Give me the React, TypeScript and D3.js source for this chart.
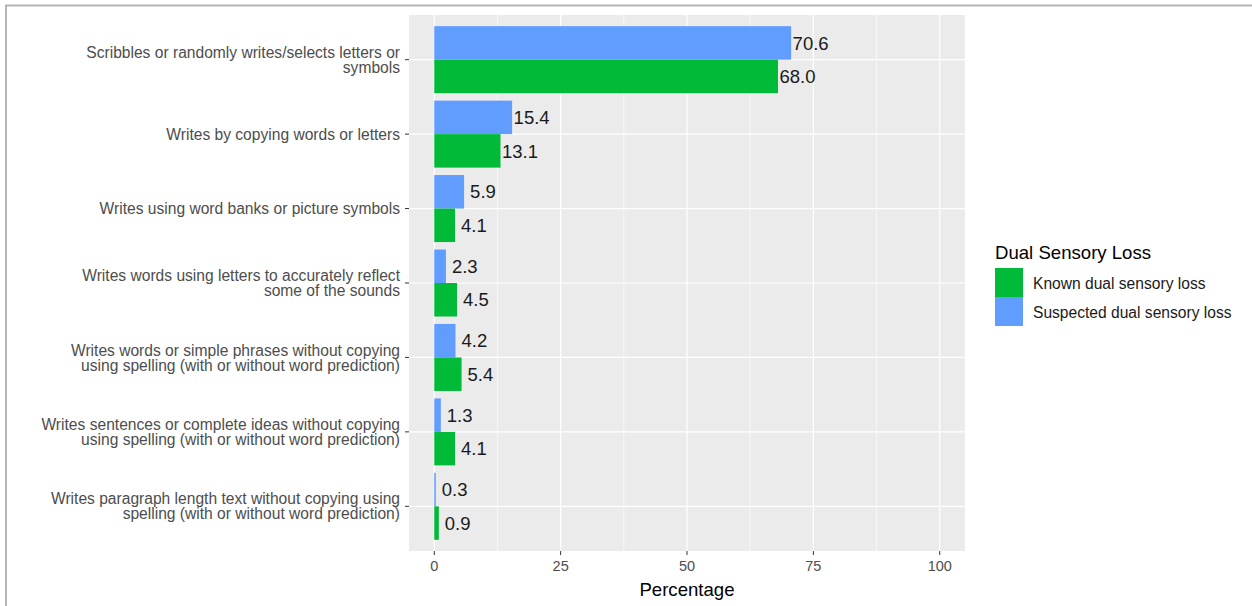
import React from "react";
import * as d3 from "d3";

const categories: string[][] = [
  ["Scribbles or randomly writes/selects letters or", "symbols"],
  ["Writes by copying words or letters"],
  ["Writes using word banks or picture symbols"],
  ["Writes words using letters to accurately reflect", "some of the sounds"],
  ["Writes words or simple phrases without copying", "using spelling (with or without word prediction)"],
  ["Writes sentences or complete ideas without copying", "using spelling (with or without word prediction)"],
  ["Writes paragraph length text without copying using", "spelling (with or without word prediction)"],
];
const suspected: number[] = [70.6, 15.4, 5.9, 2.3, 4.2, 1.3, 0.3];
const known: number[] = [68.0, 13.1, 4.1, 4.5, 5.4, 4.1, 0.9];
const xTicks: number[] = [0, 25, 50, 75, 100];
const xMinor: number[] = [12.5, 37.5, 62.5, 87.5];
const legendLabels: string[] = ["Known dual sensory loss", "Suspected dual sensory loss"];
const colors = { known: "#00BA38", suspected: "#619CFF" };

const FONT = "'Liberation Sans', Arial, sans-serif";

export default function App() {
  const W = 1252, H = 606;
  const panel = { left: 409, right: 965, top: 15, bottom: 551 };
  const x = d3.scaleLinear().domain([-5, 105]).range([panel.left, panel.right]);
  const keys = categories.map((_, i) => String(i));
  const y = d3.scalePoint<string>().domain(keys).range([panel.top, panel.bottom]).padding(0.6);
  const step = y.step();
  const half = step * 0.45;
  const lineH = 15;

  const gap = (v: number) => (v >= 10 ? 1.5 : 6);

  return (
    <div style={{ position: "fixed", left: 0, top: 0 }}>
      <svg width={W} height={H} style={{ display: "block", background: "#fff" }} fontFamily={FONT}>
        <line x1={5} x2={W} y1={5.5} y2={5.5} stroke="#b4b4b4" strokeWidth={2} />
        <line x1={6} x2={6} y1={5} y2={H} stroke="#b4b4b4" strokeWidth={2} />
        <rect x={panel.left} y={panel.top} width={panel.right - panel.left} height={panel.bottom - panel.top} fill="#EBEBEB" />
        {xMinor.map((t) => (
          <line key={"mi" + t} x1={x(t)} x2={x(t)} y1={panel.top} y2={panel.bottom} stroke="#fff" strokeWidth={0.6} />
        ))}
        {xTicks.map((t) => (
          <line key={"ma" + t} x1={x(t)} x2={x(t)} y1={panel.top} y2={panel.bottom} stroke="#fff" strokeWidth={1.2} />
        ))}
        {keys.map((k) => (
          <line key={"hy" + k} x1={panel.left} x2={panel.right} y1={y(k)!} y2={y(k)!} stroke="#fff" strokeWidth={1.2} />
        ))}
        {keys.map((k, i) => {
          const c = y(k)!;
          return (
            <g key={"b" + k}>
              <rect x={x(0)} y={c - half} width={x(suspected[i]) - x(0)} height={half} fill={colors.suspected} />
              <rect x={x(0)} y={c} width={x(known[i]) - x(0)} height={half} fill={colors.known} />
              <text x={x(suspected[i]) + gap(suspected[i])} y={c - half / 2} dy="0.36em" fontSize={18.5} fill="#1a1a1a">
                {suspected[i].toFixed(1)}
              </text>
              <text x={x(known[i]) + gap(known[i])} y={c + half / 2} dy="0.36em" fontSize={18.5} fill="#1a1a1a">
                {known[i].toFixed(1)}
              </text>
            </g>
          );
        })}
        {/* y axis */}
        {keys.map((k, i) => {
          const c = y(k)!;
          const lines = categories[i];
          const y0 = c - ((lines.length - 1) * lineH) / 2;
          return (
            <g key={"yl" + k}>
              <line x1={panel.left - 4} x2={panel.left} y1={c} y2={c} stroke="#333" strokeWidth={1} />
              <text textAnchor="end" fontSize={15.6} fill="#4D4D4D">
                {lines.map((l, j) => (
                  <tspan key={j} x={panel.left - 9} y={y0 + j * lineH} dy="0.36em">
                    {l}
                  </tspan>
                ))}
              </text>
            </g>
          );
        })}
        {/* x axis */}
        {xTicks.map((t) => (
          <g key={"xt" + t}>
            <line x1={x(t)} x2={x(t)} y1={panel.bottom} y2={panel.bottom + 4} stroke="#333" strokeWidth={1} />
            <text x={x(t)} y={panel.bottom + 15} dy="0.36em" textAnchor="middle" fontSize={14.5} fill="#4D4D4D">
              {t}
            </text>
          </g>
        ))}
        <text x={(panel.left + panel.right) / 2} y={589} dy="0.36em" textAnchor="middle" fontSize={18.6} fill="#000">
          Percentage
        </text>
        {/* legend */}
        <text x={995} y={252} dy="0.36em" fontSize={18.6} fill="#000">
          Dual Sensory Loss
        </text>
        {legendLabels.map((l, i) => (
          <g key={"lg" + i}>
            <rect x={995} y={268 + i * 29} width={28} height={29} fill={i === 0 ? colors.known : colors.suspected} />
            <text x={1033} y={283 + i * 29} dy="0.36em" fontSize={15.6} fill="#1a1a1a">
              {l}
            </text>
          </g>
        ))}
      </svg>
    </div>
  );
}
